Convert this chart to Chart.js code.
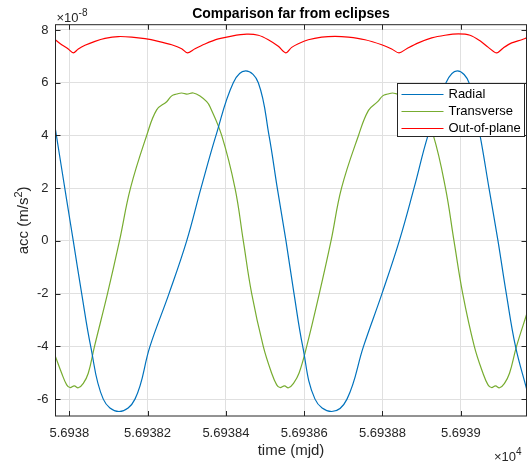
<!DOCTYPE html>
<html>
<head>
<meta charset="utf-8">
<script src="https://cdn.jsdelivr.net/npm/chart.js@4.4.0/dist/chart.umd.min.js"></script>
<style>
  html, body { margin: 0; padding: 0; background: #fff; }
</style>
</head>
<body>
<canvas id="myChart" width="532" height="464"></canvas>
<script>
// time in mjd, acceleration in units of 1e-8 m/s^2
const radialTime = [56937.9648, 56937.9934, 56938.0102, 56938.0317, 56938.0547, 56938.0868, 56938.1270,
  56938.1678, 56938.2061, 56938.2547, 56938.2999, 56938.3364, 56938.3747, 56938.4189, 56938.4506,
  56938.4828, 56938.5101, 56938.5313, 56938.5535, 56938.5740, 56938.5962, 56938.6276, 56938.6702,
  56938.7093, 56938.7515, 56938.7987, 56938.8429, 56938.8805, 56938.9162, 56938.9622, 56938.9911,
  56939.0210, 56939.0491, 56939.0720, 56939.0950, 56939.1162, 56939.1397, 56939.1678];
const radialAcc = [4.21, 1.55, 0, -2, -4, -6, -6.47,
  -6, -4, -2, 0, 2, 4, 6, 6.45,
  6, 4, 2, 0, -2, -4, -6, -6.47,
  -6, -4, -2, 0, 2, 4, 6, 6.45,
  6, 4, 2, 0, -2, -4, -5.6];

const transverseTime = [56937.9648, 56937.9806, 56937.9934, 56938.0018, 56938.0128, 56938.0230, 56938.0358, 56938.0485,
  56938.0644, 56938.0976, 56938.1282, 56938.1563, 56938.1977,
  56938.2232, 56938.2488, 56938.2616, 56938.2743, 56938.2871, 56938.2999, 56938.3167, 56938.3339, 56938.3510, 56938.3594,
  56938.3893, 56938.4233, 56938.4445, 56938.4659, 56938.4955,
  56938.5170, 56938.5298, 56938.5382, 56938.5497, 56938.5599, 56938.5727, 56938.5867,
  56938.6064, 56938.6386, 56938.6685, 56938.6953, 56938.7387,
  56938.7642, 56938.7877, 56938.8005, 56938.8133, 56938.8261, 56938.8388, 56938.8557, 56938.8728, 56938.8899, 56938.8983,
  56938.9298, 56938.9609, 56938.9826, 56939.0049, 56939.0345,
  56939.0567, 56939.0695, 56939.0784, 56939.0886, 56939.0989, 56939.1116, 56939.1244,
  56939.1423, 56939.1678];
const transverseAcc = [-4.39, -5.02, -5.46, -5.56, -5.5, -5.57, -5.4, -5.02,
  -4, -2, 0, 2, 4,
  4.97, 5.28, 5.5, 5.57, 5.61, 5.57, 5.61, 5.5, 5.28, 5.09,
  4, 2, 0, -2, -4,
  -5.02, -5.46, -5.56, -5.5, -5.57, -5.4, -5.02,
  -4, -2, 0, 2, 4,
  4.95, 5.28, 5.5, 5.57, 5.61, 5.57, 5.61, 5.5, 5.28, 5.09,
  4, 2, 0, -2, -4,
  -5.02, -5.46, -5.56, -5.5, -5.57, -5.4, -5.02,
  -4, -2.8];

const outOfPlaneTime = [56937.9648, 56937.9806, 56937.9974, 56938.0102, 56938.0230, 56938.0401, 56938.0656, 56938.0912, 56938.1252, 56938.1594,
  56938.1934, 56938.2273, 56938.2616, 56938.2871, 56938.3014, 56938.3211, 56938.3466, 56938.3806, 56938.4148, 56938.4531,
  56938.4828, 56938.5083, 56938.5339, 56938.5528, 56938.5681, 56938.5849, 56938.6105, 56938.6447, 56938.6787, 56938.7127,
  56938.7553, 56938.7980, 56938.8235, 56938.8422, 56938.8618, 56938.8915, 56938.9257, 56938.9597, 56938.9936, 56939.0235,
  56939.0491, 56939.0703, 56939.0917, 56939.1086, 56939.1300, 56939.1556, 56939.1678];
const outOfPlaneAcc = [7.62, 7.44, 7.28, 7.13, 7.28, 7.42, 7.57, 7.68, 7.75, 7.73,
  7.67, 7.57, 7.44, 7.29, 7.13, 7.29, 7.47, 7.66, 7.77, 7.84,
  7.8, 7.63, 7.38, 7.13, 7.34, 7.48, 7.63, 7.73, 7.76, 7.73,
  7.63, 7.44, 7.28, 7.13, 7.29, 7.51, 7.7, 7.8, 7.85, 7.8,
  7.59, 7.34, 7.13, 7.32, 7.51, 7.63, 7.7];

const seriesLabels = ["Radial", "Transverse", "Out-of-plane"];
const seriesColors = ["#0072BD", "#77AC30", "#FF0000"];

const xTicks = [56938, 56938.2, 56938.4, 56938.6, 56938.8, 56939];
const yTicks = [-6, -4, -2, 0, 2, 4, 6, 8];

const FONT = "'Liberation Sans', Arial, Helvetica, sans-serif";
const INK = "#262626";

function toPoints(t, v) {
  return t.map((x, i) => ({ x: x, y: v[i] }));
}

// base text then a smaller raised part
function drawSup(ctx, x, y, base, sup, size) {
  ctx.font = size + "px " + FONT;
  ctx.fillText(base, x, y);
  const w = ctx.measureText(base).width;
  ctx.font = Math.round(size * 0.75) + "px " + FONT;
  ctx.fillText(sup, x + w, y - size * 0.45);
}

const matlabLook = {
  id: "matlabLook",
  afterDatasetsDraw(chart) {
    const { ctx, chartArea: a, scales } = chart;
    ctx.save();
    ctx.strokeStyle = INK;
    ctx.lineWidth = 1;
    ctx.beginPath();
    xTicks.forEach((v) => {
      const px = Math.round(scales.x.getPixelForValue(v)) + 0.5;
      ctx.moveTo(px, a.bottom); ctx.lineTo(px, a.bottom - 5);
      ctx.moveTo(px, a.top); ctx.lineTo(px, a.top + 5);
    });
    yTicks.forEach((v) => {
      const py = Math.round(scales.y.getPixelForValue(v)) + 0.5;
      ctx.moveTo(a.left, py); ctx.lineTo(a.left + 5, py);
      ctx.moveTo(a.right, py); ctx.lineTo(a.right - 5, py);
    });
    ctx.stroke();
    ctx.strokeRect(a.left, a.top, a.right - a.left, a.bottom - a.top);
    ctx.restore();
  },
  afterDraw(chart) {
    const { ctx, chartArea: a } = chart;
    ctx.save();
    ctx.fillStyle = "#000";
    ctx.textAlign = "center";
    ctx.textBaseline = "alphabetic";
    ctx.font = "bold 14px " + FONT;
    ctx.fillText("Comparison far from eclipses", (a.left + a.right) / 2, 17.5);

    ctx.fillStyle = INK;
    ctx.textAlign = "left";
    drawSup(ctx, a.left + 1, 21.5, "\u00d710", "-8", 13);
    drawSup(ctx, 494, 461, "\u00d710", "4", 13);

    ctx.textAlign = "center";
    ctx.font = "15px " + FONT;
    ctx.fillText("time (mjd)", (a.left + a.right) / 2, 455);

    // y axis label with superscript 2
    ctx.translate(28, (a.top + a.bottom) / 2);
    ctx.rotate(-Math.PI / 2);
    const p1 = "acc (m/s", p3 = ")";
    ctx.font = "15px " + FONT;
    const w1 = ctx.measureText(p1).width;
    const w3 = ctx.measureText(p3).width;
    ctx.font = "11px " + FONT;
    const w2 = ctx.measureText("2").width;
    const x0 = -(w1 + w2 + w3) / 2;
    ctx.textAlign = "left";
    ctx.font = "15px " + FONT;
    ctx.fillText(p1, x0, 0);
    ctx.font = "11px " + FONT;
    ctx.fillText("2", x0 + w1, -6);
    ctx.font = "15px " + FONT;
    ctx.fillText(p3, x0 + w1 + w2, 0);
    ctx.restore();

    // legend box
    ctx.save();
    const lx = 397.5, ly = 83.5, lw = 127, lh = 53;
    ctx.fillStyle = "#fff";
    ctx.fillRect(lx, ly, lw, lh);
    ctx.strokeStyle = INK;
    ctx.lineWidth = 1;
    ctx.strokeRect(lx, ly, lw, lh);
    ctx.font = "13px " + FONT;
    ctx.textBaseline = "middle";
    ctx.textAlign = "left";
    seriesLabels.forEach((label, i) => {
      const y = Math.round(ly + 10 + i * 17) + 0.5;
      ctx.strokeStyle = seriesColors[i];
      ctx.beginPath();
      ctx.moveTo(lx + 4, y);
      ctx.lineTo(lx + 46, y);
      ctx.stroke();
      ctx.fillStyle = "#000";
      ctx.fillText(label, lx + 51, y);
    });
    ctx.restore();
  }
};

Chart.defaults.font.family = FONT;
Chart.defaults.color = INK;

const ctx = document.getElementById("myChart");

const data = {
  datasets: [
    { label: seriesLabels[0], data: toPoints(radialTime, radialAcc), borderColor: seriesColors[0], tension: 0.4 },
    { label: seriesLabels[1], data: toPoints(transverseTime, transverseAcc), borderColor: seriesColors[1], tension: 0.4 },
    { label: seriesLabels[2], data: toPoints(outOfPlaneTime, outOfPlaneAcc), borderColor: seriesColors[2], tension: 0.3 },
  ].map((d) => Object.assign({ borderWidth: 1.2, pointRadius: 0, fill: false }, d)),
};

const config = {
  type: "line",
  data,
  options: {
    responsive: false,
    animation: false,
    layout: { padding: { left: 0, right: 5.5, top: 24.7, bottom: 0 } },
    plugins: { legend: { display: false }, title: { display: false }, tooltip: { enabled: false } },
    scales: {
      x: {
        type: "linear",
        min: 56937.9648,
        max: 56939.1678,
        afterBuildTicks: (s) => { s.ticks = xTicks.map((v) => ({ value: v })); },
        afterFit: (s) => { s.height = 48; },
        grid: { color: "#e0e0e0", drawTicks: false },
        border: { display: false },
        ticks: {
          padding: 10,
          maxRotation: 0,
          autoSkip: false,
          font: { size: 13 },
          color: INK,
          callback: (v) => String(Number((v / 1e4).toFixed(5))),
        },
      },
      y: {
        min: -6.64,
        max: 8.2,
        afterBuildTicks: (s) => { s.ticks = yTicks.map((v) => ({ value: v })); },
        afterFit: (s) => { s.width = 55.5; },
        grid: { color: "#e0e0e0", drawTicks: false },
        border: { display: false },
        ticks: { padding: 7, font: { size: 13 }, color: INK, callback: (v) => String(v) },
      },
    },
  },
  plugins: [matlabLook],
};

let myChart = new Chart(ctx, config);
</script>
</body>
</html>
